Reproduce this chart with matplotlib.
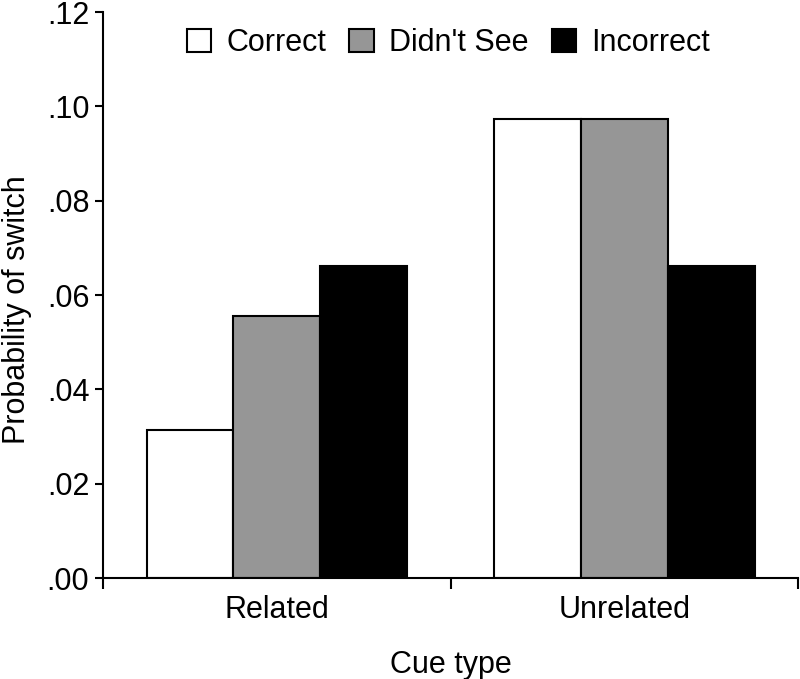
import matplotlib
matplotlib.use("Agg")
import matplotlib.pyplot as plt
import numpy as np

plt.rcParams['font.family'] = ['Liberation Sans', 'DejaVu Sans']

categories = ["Related", "Unrelated"]
series = ["Correct", "Didn't See", "Incorrect"]
correct = [0.0314, 0.0973]
didnt_see = [0.0555, 0.0973]
incorrect = [0.0661, 0.0661]
yticks = [0.00, 0.02, 0.04, 0.06, 0.08, 0.10, 0.12]
ytick_labels = [".00", ".02", ".04", ".06", ".08", ".10", ".12"]

colors = ["white", "#969696", "black"]
values = [correct, didnt_see, incorrect]
FS = 22

fig = plt.figure(figsize=(8.0, 6.79), dpi=100)
ax = fig.add_axes([0.129, 0.1487, 0.8685, 0.8336])

x = np.arange(len(categories))
w = 0.25
for i, (name, vals, c) in enumerate(zip(series, values, colors)):
    ax.bar(x + (i - 1) * w, vals, width=w, color=c, edgecolor="black",
           linewidth=1.5, label=name, zorder=2)

ax.set_xlim(-0.5, 1.5)
ax.set_ylim(0, 0.12)
ax.set_yticks(yticks)
ax.set_yticklabels(ytick_labels, fontsize=FS)
ax.set_xticks(x)
ax.set_xticklabels(categories, fontsize=FS)
ax.tick_params(axis='x', length=0, pad=12)
ax.set_xticks([-0.5, 0.5, 1.5], minor=True)
ax.tick_params(axis='x', which='minor', length=8, width=1.5, direction='out')
ax.tick_params(axis='y', length=6, width=1.5, direction='out', pad=4)

for s in ['top', 'right']:
    ax.spines[s].set_visible(False)
for s in ['left', 'bottom']:
    ax.spines[s].set_linewidth(1.5)

ax.set_ylabel("Probability of switch", fontsize=FS)
ax.yaxis.set_label_coords(-0.103, 0.4735)
ax.set_xlabel("Cue type", fontsize=FS, labelpad=18)

leg = ax.legend(loc='upper center', bbox_to_anchor=(0.497, 0.993), ncol=3, frameon=False,
                fontsize=FS, handlelength=0.8, handleheight=0.8, handletextpad=0.5,
                columnspacing=0.75, borderaxespad=0.0)

fig.savefig("out.png", dpi=100)
